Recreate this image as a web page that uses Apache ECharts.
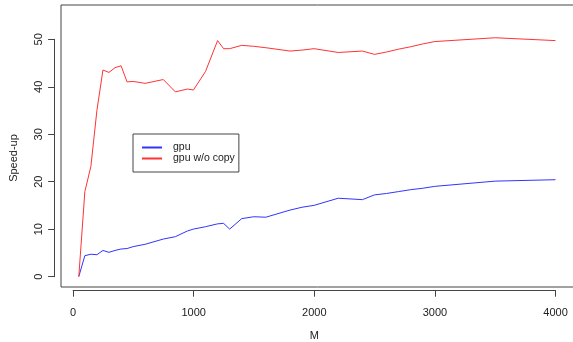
<!DOCTYPE html>
<html><head><meta charset="utf-8">
<script src="https://cdn.jsdelivr.net/npm/echarts@6/dist/echarts.min.js"></script>
<style>html,body{margin:0;padding:0;background:#fff}#c{width:573px;height:342px}</style>
</head><body><div id="c"></div>
<script>
var M = [50,100,150,200,250,300,350,400,450,500,600,750,850,950,1000,1100,1200,1250,1300,1400,1500,1600,1800,1900,2000,2200,2400,2500,2600,2700,2800,2900,3000,3500,4000];
var gpu = [0,4.4,4.7,4.6,5.5,5.1,5.5,5.8,5.9,6.3,6.8,7.9,8.4,9.6,10.0,10.5,11.1,11.2,10.0,12.2,12.6,12.5,14.0,14.6,15.0,16.5,16.2,17.2,17.5,17.9,18.3,18.6,19.0,20.1,20.4];
var gpuNoCopy = [0,17.9,23.2,35,43.5,43.0,44.0,44.4,41.0,41.1,40.7,41.5,38.9,39.5,39.3,43.2,49.7,48.0,48.0,48.7,48.5,48.2,47.5,47.7,48.0,47.2,47.5,46.8,47.3,47.9,48.4,49.0,49.5,50.3,49.7];
var xTicks = [0,1000,2000,3000,4000];
var yTicks = [0,10,20,30,40,50];

var pairs = function(xs, ys){ return xs.map(function(x,i){ return [x, ys[i]]; }); };
var font = "'Liberation Sans', Arial, sans-serif";
var axisCol = '#444';
var chart = echarts.init(document.getElementById('c'));
chart.setOption({
  animation: false,
  backgroundColor: '#fff',
  textStyle: {fontFamily: font},
  grid: [
    {left: 61, right: -1.5, top: 5, bottom: 55, show: true, borderColor: axisCol, borderWidth: 1, backgroundColor: 'transparent', containLabel: false, outerBoundsMode: 'none'},
    {left: 73.1, right: 17.4, top: 39.3, bottom: 65.3, show: false, containLabel: false, outerBoundsMode: 'none'}
  ],
  xAxis: [
    {gridIndex: 0, type: 'value', min: -97.6, max: 4157.6, show: false},
    {gridIndex: 1, type: 'value', min: xTicks[0], max: xTicks[xTicks.length-1], interval: 1000, offset: 14, position: 'bottom',
     axisLine: {show: true, onZero: false, lineStyle: {color: axisCol, width: 1}},
     axisTick: {show: true, length: 6, lineStyle: {color: axisCol}},
     splitLine: {show: false},
     axisLabel: {color: '#222', fontSize: 11, margin: 17, fontFamily: font, formatter: function(v){ return String(v); }},
     name: 'M', nameLocation: 'middle', nameGap: 40, nameTextStyle: {color: '#222', fontSize: 11, fontFamily: font}}
  ],
  yAxis: [
    {gridIndex: 0, type: 'value', min: -2.2, max: 57.2, show: false},
    {gridIndex: 1, type: 'value', min: yTicks[0], max: yTicks[yTicks.length-1], interval: 10, offset: 19, position: 'left',
     axisLine: {show: true, onZero: false, lineStyle: {color: axisCol, width: 1}},
     axisTick: {show: true, length: 6, lineStyle: {color: axisCol}},
     splitLine: {show: false},
     axisLabel: {color: '#222', fontSize: 11, rotate: 90, margin: 10, fontFamily: font},
     name: 'Speed-up', nameLocation: 'middle', nameGap: 35, nameTextStyle: {color: '#222', fontSize: 11, fontFamily: font}}
  ],
  legend: {
    left: 133, top: 134, orient: 'vertical',
    borderColor: axisCol, borderWidth: 1, borderRadius: 0,
    padding: [8, 4, 8, 8], itemGap: 0, itemWidth: 20, itemHeight: 11,
    itemStyle: {color: 'transparent', borderColor: 'transparent', borderWidth: 0},
    textStyle: {color: '#222', fontSize: 10.5, fontFamily: font, padding: [0, 0, 0, 6]},
    data: ['gpu', 'gpu w/o copy']
  },
  series: [
    {name: 'gpu', type: 'line', xAxisIndex: 0, yAxisIndex: 0, data: pairs(M, gpu), showSymbol: false, symbol: 'none',
     lineStyle: {color: '#3333ff', width: 1}, itemStyle: {color: '#3333ff'}},
    {name: 'gpu w/o copy', type: 'line', xAxisIndex: 0, yAxisIndex: 0, data: pairs(M, gpuNoCopy), showSymbol: false, symbol: 'none',
     lineStyle: {color: '#ff3333', width: 1}, itemStyle: {color: '#ff3333'}}
  ]
});
</script></body></html>
